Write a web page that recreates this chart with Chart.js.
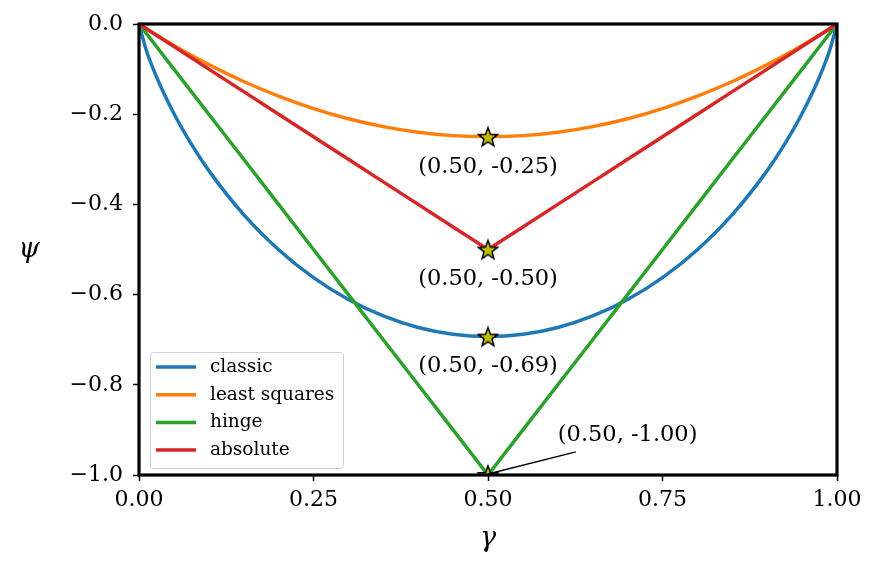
<!DOCTYPE html>
<html>
<head>
<meta charset="utf-8">
<script src="https://cdn.jsdelivr.net/npm/chart.js@4.4.1/dist/chart.umd.min.js"></script>
<style>
  html, body { margin: 0; padding: 0; background: #fff; }
  #wrap { width: 881px; height: 568px; }
</style>
</head>
<body>
<div id="wrap"><canvas id="myChart" width="881" height="568"></canvas></div>
<script>
// gamma values along the x axis
const gammas = [0, 0.01, 0.025, 0.05, 0.075, 0.1, 0.15, 0.2, 0.25, 0.3, 0.35, 0.4, 0.45, 0.5,
  0.55, 0.6, 0.65, 0.7, 0.75, 0.8, 0.85, 0.9, 0.925, 0.95, 0.975, 0.99, 1];

const classic = [0, -0.056, -0.1169, -0.1985, -0.2664, -0.3251, -0.4227, -0.5004, -0.5623, -0.6109, -0.6474, -0.673, -0.6881, -0.6931,
  -0.6881, -0.673, -0.6474, -0.6109, -0.5623, -0.5004, -0.4227, -0.3251, -0.2664, -0.1985, -0.1169, -0.056, 0];
const leastSquares = [0, -0.0099, -0.0244, -0.0475, -0.0694, -0.09, -0.1275, -0.16, -0.1875, -0.21, -0.2275, -0.24, -0.2475, -0.25,
  -0.2475, -0.24, -0.2275, -0.21, -0.1875, -0.16, -0.1275, -0.09, -0.0694, -0.0475, -0.0244, -0.0099, 0];
const hinge = [0, -0.02, -0.05, -0.1, -0.15, -0.2, -0.3, -0.4, -0.5, -0.6, -0.7, -0.8, -0.9, -1.0,
  -0.9, -0.8, -0.7, -0.6, -0.5, -0.4, -0.3, -0.2, -0.15, -0.1, -0.05, -0.02, 0];
const absolute = [0, -0.01, -0.025, -0.05, -0.075, -0.1, -0.15, -0.2, -0.25, -0.3, -0.35, -0.4, -0.45, -0.5,
  -0.45, -0.4, -0.35, -0.3, -0.25, -0.2, -0.15, -0.1, -0.075, -0.05, -0.025, -0.01, 0];

const seriesNames = ["classic", "least squares", "hinge", "absolute"];

// minima marked with stars
const minX = [0.5, 0.5, 0.5, 0.5];
const minY = [-0.25, -0.5, -0.6931, -1.0];

const xTickLabels = ["0.00", "0.25", "0.50", "0.75", "1.00"];
const yTickLabels = ["\u22121.0", "\u22120.8", "\u22120.6", "\u22120.4", "\u22120.2", "0.0"];

const colors = ["#1f77b4", "#ff7f0e", "#2ca02c", "#d62728"];
const FONT = '"DejaVu Serif", serif';

// filled star marker
function makeStar(r) {
  const c = document.createElement("canvas");
  const s = Math.ceil(r * 2 + 4);
  c.width = s; c.height = s;
  const g = c.getContext("2d");
  g.translate(s / 2, s / 2 + 1);
  g.beginPath();
  for (let i = 0; i < 10; i++) {
    const rad = i % 2 === 0 ? r : r * 0.42;
    const a = -Math.PI / 2 + i * Math.PI / 5;
    g.lineTo(rad * Math.cos(a), rad * Math.sin(a));
  }
  g.closePath();
  g.fillStyle = "rgb(191,191,0)";
  g.fill();
  g.lineWidth = 1.5;
  g.strokeStyle = "#000";
  g.stroke();
  return c;
}
const star = makeStar(10);

const toPts = (ys) => gammas.map((x, i) => ({ x: x, y: ys[i] }));

const framePlugin = {
  id: "frame",
  afterDatasetsDraw(chart) {
    const { ctx, chartArea: a, scales } = chart;
    const xs = scales.x, ys = scales.y;
    ctx.save();

    // annotations for the minima
    ctx.fillStyle = "#000";
    ctx.font = "22.5px " + FONT;
    ctx.textBaseline = "middle";
    for (let i = 0; i < 3; i++) {
      const px = xs.getPixelForValue(minX[i]);
      const py = ys.getPixelForValue(minY[i]);
      ctx.textAlign = "center";
      ctx.fillText("(" + minX[i].toFixed(2) + ", " + minY[i].toFixed(2) + ")", px, py + 30);
    }
    const hx = xs.getPixelForValue(minX[3]);
    const hy = ys.getPixelForValue(minY[3]);
    const tx = xs.getPixelForValue(0.6);
    const ty = ys.getPixelForValue(-0.911);
    ctx.textAlign = "left";
    ctx.fillText("(" + minX[3].toFixed(2) + ", " + minY[3].toFixed(2) + ")", tx, ty);
    ctx.beginPath();
    ctx.moveTo(hx, hy - 1);
    ctx.lineTo(tx + 18, ty + 17);
    ctx.lineWidth = 1.5;
    ctx.strokeStyle = "#000";
    ctx.stroke();

    // frame
    ctx.lineWidth = 3.2;
    ctx.strokeStyle = "#000";
    ctx.strokeRect(a.left, a.top, a.right - a.left, a.bottom - a.top);

    // legend
    const lx = 150, ly = 352, lw = 193, lh = 116;
    ctx.fillStyle = "rgba(255,255,255,0.8)";
    ctx.strokeStyle = "#d0d0d0";
    ctx.lineWidth = 1;
    ctx.beginPath();
    ctx.roundRect(lx + 0.5, ly + 0.5, lw, lh, 3);
    ctx.fill();
    ctx.stroke();
    ctx.font = "18.5px " + FONT;
    ctx.textAlign = "left";
    ctx.textBaseline = "middle";
    seriesNames.forEach((name, i) => {
      const y = ly + 15 + i * 27.7;
      ctx.beginPath();
      ctx.moveTo(156, y);
      ctx.lineTo(196, y);
      ctx.strokeStyle = colors[i];
      ctx.lineWidth = 3.5;
      ctx.stroke();
      ctx.fillStyle = "#000";
      ctx.fillText(name, 210, y);
    });

    // axis titles
    ctx.font = "italic 27px " + FONT;
    ctx.textAlign = "center";
    ctx.fillStyle = "#000";
    ctx.fillText("\u03c8", 29, 250);
    ctx.fillText("\u03b3", (a.left + a.right) / 2, 539);
    ctx.restore();
  }
};

const ctx = document.getElementById("myChart");
const lineData = [classic, leastSquares, hinge, absolute];
const datasets = lineData.map((ys, i) => ({
  label: seriesNames[i],
  data: toPts(ys),
  borderColor: colors[i],
  borderWidth: 3.5,
  pointRadius: 0,
  fill: false,
  cubicInterpolationMode: i < 2 ? "monotone" : "default",
  tension: 0,
  order: 4 - i,
}));
datasets.push({
  label: "minima",
  data: minX.map((x, i) => ({ x: x, y: minY[i] })),
  showLine: false,
  pointStyle: star,
  pointRadius: 10,
  order: 0,
});

var myChart = new Chart(ctx, {
  type: "line",
  data: { datasets: datasets },
  plugins: [framePlugin],
  options: {
    responsive: false,
    animation: false,
    layout: { padding: { top: 24, right: 44, left: 0, bottom: 0 } },
    plugins: { legend: { display: false }, tooltip: { enabled: false } },
    scales: {
      x: {
        type: "linear",
        min: 0,
        max: 1,
        afterFit: (s) => { s.height = 93; },
        afterBuildTicks: (s) => { s.ticks = xTickLabels.map((t) => ({ value: parseFloat(t) })); },
        ticks: {
          callback: (v, i) => xTickLabels[i],
          color: "#000",
          font: { family: FONT, size: 22 },
          padding: 6,
          maxRotation: 0,
        },
        grid: { drawOnChartArea: false, tickLength: 6, tickColor: "#000", tickWidth: 1.5 },
        border: { display: false },
      },
      y: {
        type: "linear",
        min: -1,
        max: 0,
        afterFit: (s) => { s.width = 139; },
        afterBuildTicks: (s) => { s.ticks = yTickLabels.map((t) => ({ value: parseFloat(t.replace("\u2212", "-")) })); },
        ticks: {
          callback: (v, i) => yTickLabels[i],
          color: "#000",
          font: { family: FONT, size: 22 },
          padding: 10,
        },
        grid: { drawOnChartArea: false, tickLength: 6, tickColor: "#000", tickWidth: 1.5 },
        border: { display: false },
      },
    },
  },
});
</script>
</body>
</html>
